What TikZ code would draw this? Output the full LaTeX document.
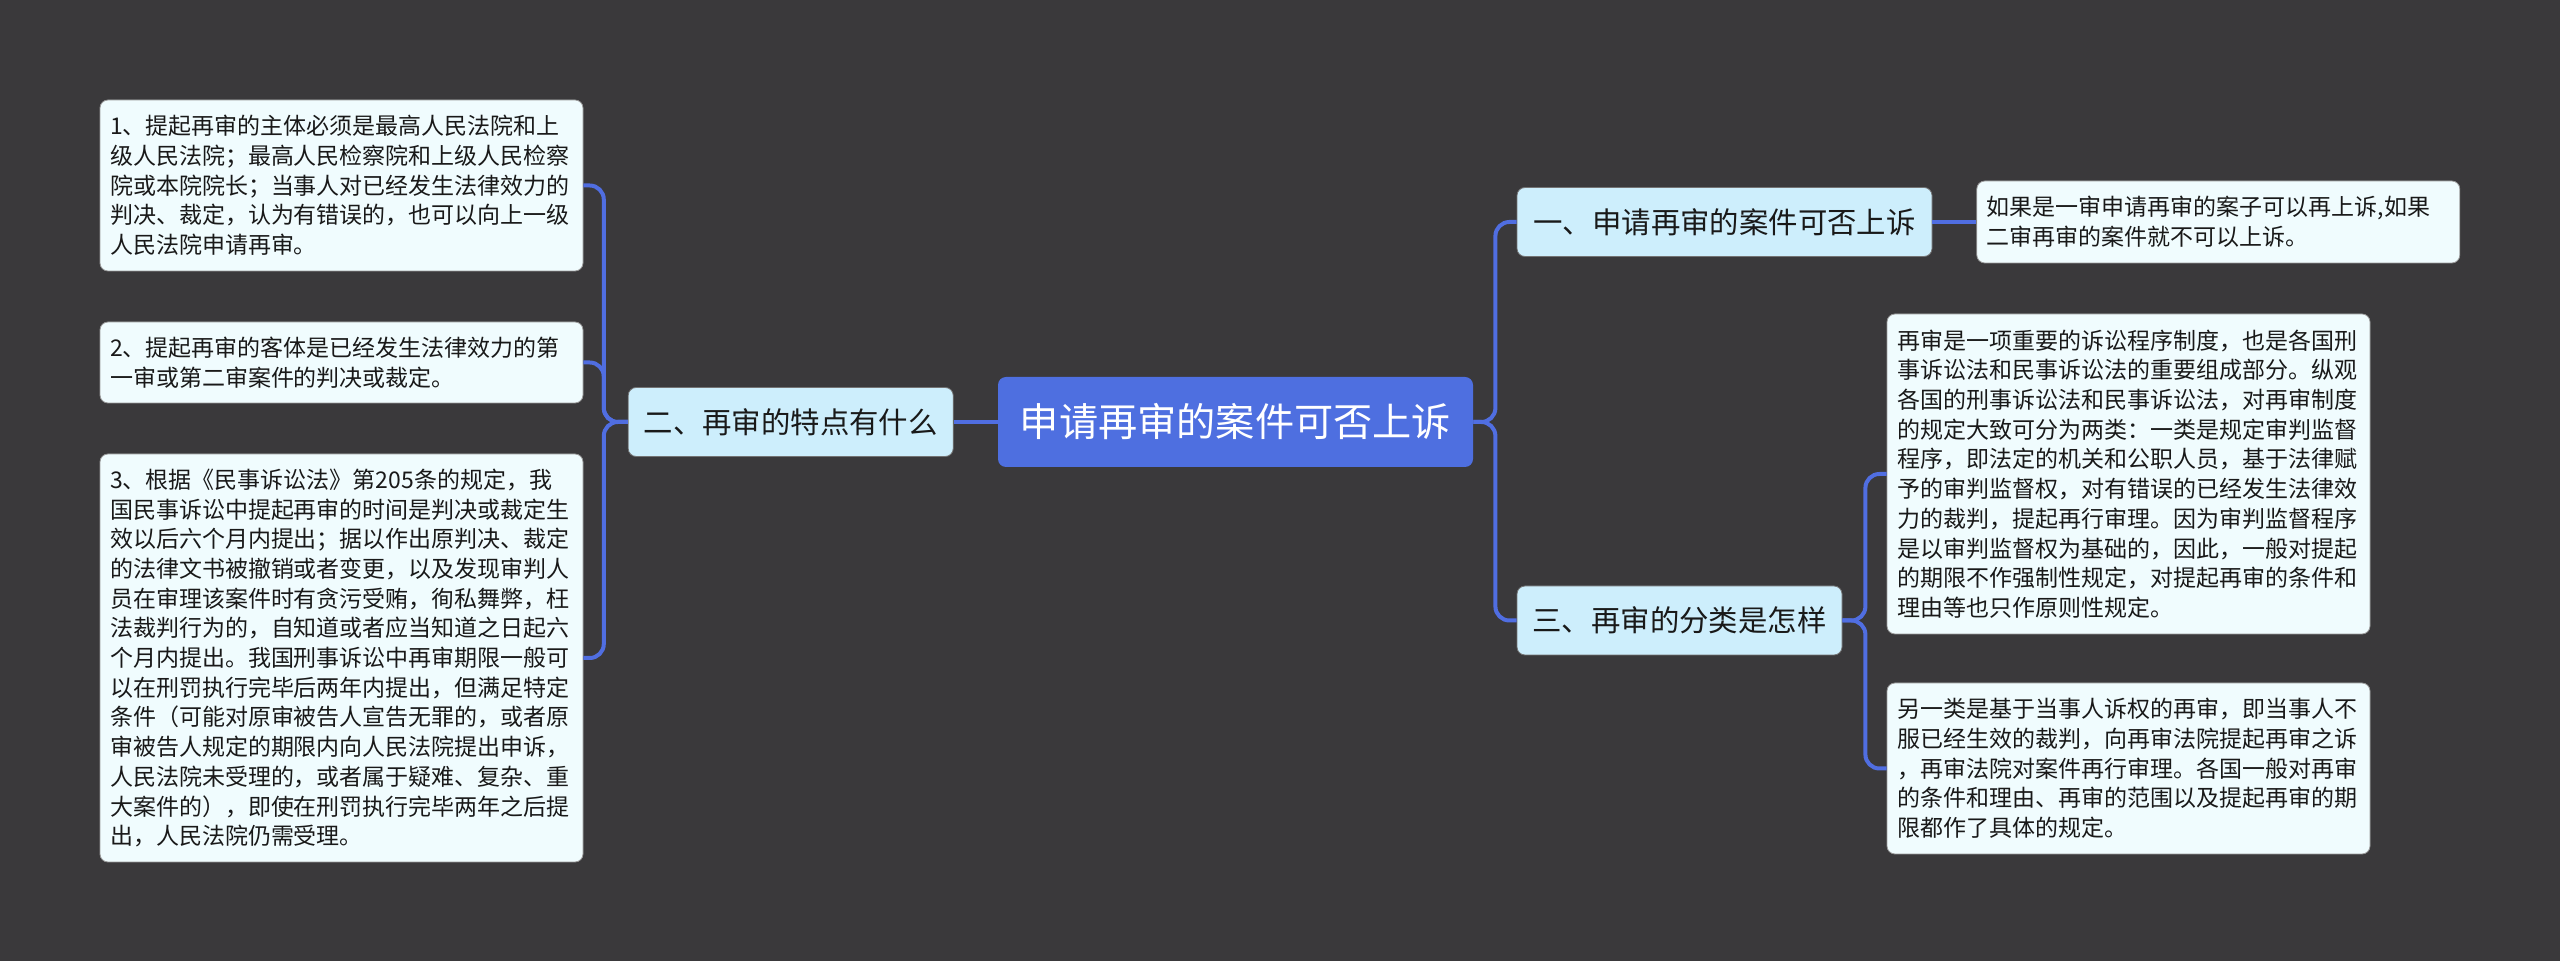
\documentclass[tikz,border=0pt]{standalone}
\usepackage{fontspec}
\newfontfamily\cjk{Noto Sans CJK SC}
\usepackage{xcolor}
\usetikzlibrary{positioning}

\definecolor{bgdark}{RGB}{58,57,59}
\definecolor{rootblue}{RGB}{78,111,224}
\definecolor{topicfill}{RGB}{205,238,252}
\definecolor{leaffill}{RGB}{240,252,254}
\definecolor{linkblue}{RGB}{80,110,225}

\begin{document}
\begin{tikzpicture}[
  x=0.5pt, y=-0.5pt,
  font=\cjk,
  root/.style={
    rectangle,
    rounded corners=4pt,
    fill=rootblue,
    text=white,
    minimum width=237.5pt,
    minimum height=45pt,
    inner sep=0pt,
    font=\cjk\fontsize{19.6}{24}\selectfont
  },
  topic/.style={
    rectangle,
    rounded corners=4pt,
    fill=topicfill,
    draw=black!55,
    line width=0.4pt,
    text=black!90,
    minimum height=34.5pt,
    inner sep=0pt,
    font=\cjk\fontsize{14.7}{18}\selectfont
  },
  leaf/.style={
    rectangle,
    rounded corners=4pt,
    fill=leaffill,
    draw=black!40,
    line width=0.4pt,
    text=black!90,
    text width=231.5pt,
    inner xsep=5pt,
    inner ysep=0pt,
    align=left,
    font=\cjk\fontsize{11.5}{14.85}\selectfont
  },
  link/.style={
    draw=linkblue,
    line width=2pt,
    rounded corners=7pt
  }
]

\fill[bgdark] (0,0) rectangle (2560,961);
\useasboundingbox (0,0) rectangle (2560,961);

\node[root] (root) at (1235.5,422) {申请再审的案件可否上诉};

% left branch
\node[topic, minimum width=162.5pt, left=22pt of root] (p2) {二、再审的特点有什么};
\node[leaf, minimum height=85.5pt] (L1) at (341.5,185.5) {1、提起再审的主体必须是最高人民法院和上\\级人民法院；最高人民检察院和上级人民检察\\院或本院院长；当事人对已经发生法律效力的\\判决、裁定，认为有错误的，也可以向上一级\\人民法院申请再审。};
\node[leaf, minimum height=40.5pt] (L2) at (341.5,362.5) {2、提起再审的客体是已经发生法律效力的第\\一审或第二审案件的判决或裁定。};
\node[leaf, minimum height=204pt] (L3) at (341.5,658) {3、根据《民事诉讼法》第205条的规定，我\\国民事诉讼中提起再审的时间是判决或裁定生\\效以后六个月内提出；据以作出原判决、裁定\\的法律文书被撤销或者变更，以及发现审判人\\员在审理该案件时有贪污受贿，徇私舞弊，枉\\法裁判行为的，自知道或者应当知道之日起六\\个月内提出。我国刑事诉讼中再审期限一般可\\以在刑罚执行完毕后两年内提出，但满足特定\\条件（可能对原审被告人宣告无罪的，或者原\\审被告人规定的期限内向人民法院提出申诉，\\人民法院未受理的，或者属于疑难、复杂、重\\大案件的），即使在刑罚执行完毕两年之后提\\出，人民法院仍需受理。};

% right branch
\node[topic, minimum width=207.5pt] (p1) at (1724.5,222) {一、申请再审的案件可否上诉};
\node[leaf, minimum height=41pt, right=22pt of p1] (R1) {如果是一审申请再审的案子可以再上诉,如果\\二审再审的案件就不可以上诉。};
\node[topic, minimum width=162.5pt] (p3) at (1679.5,620.5) {三、再审的分类是怎样};
\node[leaf, minimum height=160pt] (R3a) at (2128.5,474) {再审是一项重要的诉讼程序制度，也是各国刑\\事诉讼法和民事诉讼法的重要组成部分。纵观\\各国的刑事诉讼法和民事诉讼法，对再审制度\\的规定大致可分为两类：一类是规定审判监督\\程序，即法定的机关和公职人员，基于法律赋\\予的审判监督权，对有错误的已经发生法律效\\力的裁判，提起再行审理。因为审判监督程序\\是以审判监督权为基础的，因此，一般对提起\\的期限不作强制性规定，对提起再审的条件和\\理由等也只作原则性规定。};
\node[leaf, minimum height=85.5pt] (R3b) at (2128.5,768.5) {另一类是基于当事人诉权的再审，即当事人不\\服已经生效的裁判，向再审法院提起再审之诉\\，再审法院对案件再行审理。各国一般对再审\\的条件和理由、再审的范围以及提起再审的期\\限都作了具体的规定。};

% connectors
\draw[link] (root) -- (p2);
\draw[link] (p2.west) -- ++(-12pt,0) |- (L1.east);
\draw[link] (p2.west) -- ++(-12pt,0) |- (L2.east);
\draw[link] (p2.west) -- ++(-12pt,0) |- (L3.east);
\draw[link] (root.east) -- ++(11pt,0) |- (p1.west);
\draw[link] (root.east) -- ++(11pt,0) |- (p3.west);
\draw[link] (p1) -- (R1);
\draw[link] (p3.east) -- ++(11.5pt,0) |- (R3a.west);
\draw[link] (p3.east) -- ++(11.5pt,0) |- (R3b.west);

\end{tikzpicture}
\end{document}
